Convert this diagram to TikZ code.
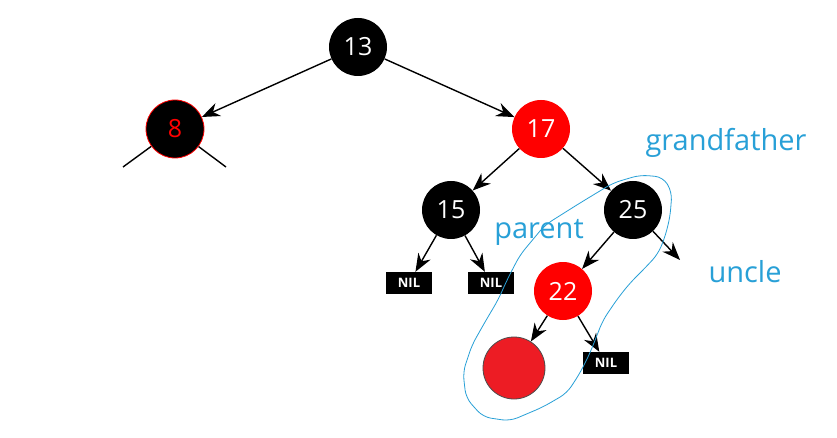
\documentclass[tikz,border=0pt]{standalone}
\usepackage{fontspec}
\setmainfont{Open Sans}
\usetikzlibrary{arrows.meta}
\definecolor{rbred}{RGB}{255,0,0}
\definecolor{bigred}{RGB}{237,28,36}
\definecolor{lasso}{RGB}{40,160,215}
\begin{document}
\begin{tikzpicture}[x=1pt,y=-1pt,
  blk/.style={circle,fill=black,minimum size=58pt,inner sep=0pt,text=white,font=\fontsize{25}{25}\selectfont},
  redn/.style={circle,fill=rbred,minimum size=58pt,inner sep=0pt,text=white,font=\fontsize{25}{25}\selectfont},
  nil/.style={rectangle,fill=black,minimum width=46pt,minimum height=22pt,inner sep=0pt,text=white,font=\fontsize{13}{13}\selectfont\bfseries},
  edge/.style={line width=1.4pt,-{Stealth[length=18pt,width=14pt]}},
  lbl/.style={text=lasso,font=\fontsize{29}{29}\selectfont}]
\useasboundingbox (0,0) rectangle (837,438);
\fill[white] (0,0) rectangle (837,438);
\node[blk] (n13) at (358,47) {13};
\node[blk,draw=rbred,line width=0.8pt] (n8) at (175,129) {\textcolor{rbred}{8}};
\node[redn] (n17) at (541,129) {17};
\node[blk] (n15) at (451,210) {15};
\node[blk] (n25) at (633,210) {25};
\node[nil] (nil1) at (409,283) {NIL};
\node[nil] (nil2) at (491,283) {NIL};
\node[redn] (n22) at (563,291) {22};
\node[circle,fill=bigred,draw=black!70,line width=0.8pt,minimum size=62pt,inner sep=0pt] (nb) at (514,368) {};
\node[nil] (nil3) at (606,363) {NIL};
\coordinate (u) at (680,260);
\coordinate (l8) at (123,167);
\coordinate (r8) at (226,167);
\draw[edge] (n13) -- (n8);
\draw[edge] (n13) -- (n17);
\draw[edge] (n17) -- (n15);
\draw[edge] (n17) -- (n25);
\draw[edge] (n15) -- (nil1);
\draw[edge] (n15) -- (nil2);
\draw[edge] (n25) -- (n22);
\draw[edge] (n25) -- (u);
\draw[edge] (n22) -- (nb);
\draw[edge] (n22) -- (nil3);
\draw[line width=1.4pt] (n8) -- (l8);
\draw[line width=1.4pt] (n8) -- (r8);
\node[lbl] (gf) at (726,143) {grandfather};
\node[lbl] (par) at (539,232) {parent};
\node[lbl] (unc) at (745,272) {uncle};
\draw[lasso,line width=0.8pt,rounded corners=8pt]
  (613,183) -- (640,175) -- (663,177) -- (672,192) -- (670,217) -- (665,237)
  -- (658,254) -- (645,268) -- (630,283) -- (618,298) -- (603,320) -- (590,353)
  -- (580,373) -- (567,393) -- (543,407) -- (510,421) -- (483,417) -- (466,398)
  -- (463,372) -- (472,345) -- (485,322) -- (498,300) -- (508,278) -- (520,255)
  -- (545,225) -- (580,203) -- cycle;
\end{tikzpicture}
\end{document}
